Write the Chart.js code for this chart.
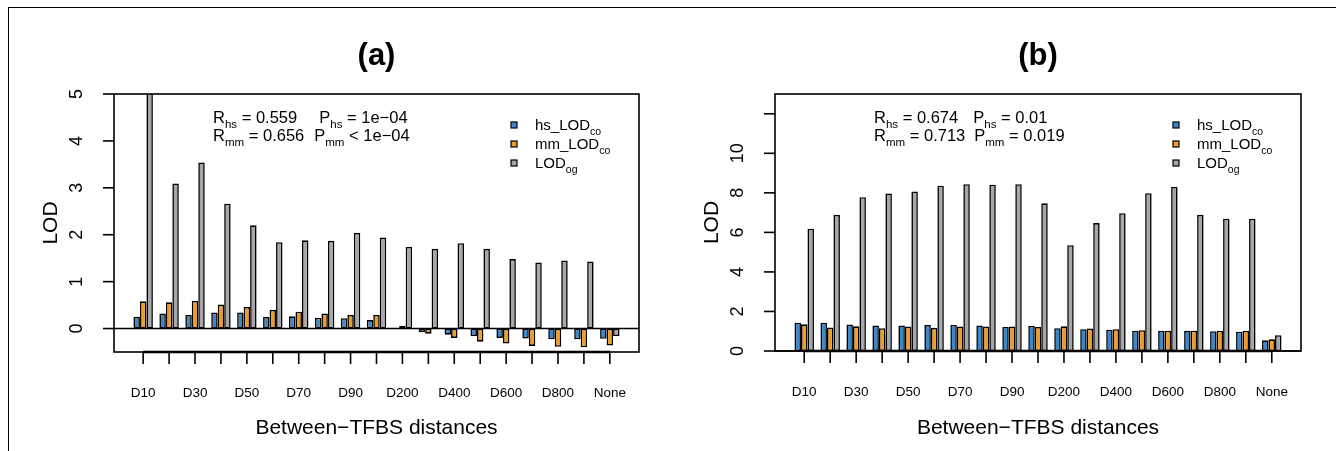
<!DOCTYPE html>
<html>
<head>
<meta charset="utf-8">
<script src="https://cdn.jsdelivr.net/npm/chart.js@4.4.1/dist/chart.umd.min.js"></script>
<style>
html,body{margin:0;padding:0;background:#fff;}
#wrap{position:relative;width:1336px;height:451px;overflow:hidden;}
#frame{position:absolute;left:8px;top:7px;width:1400px;height:500px;border-top:1.5px solid #000;border-left:1.5px solid #000;}
canvas{position:absolute;top:0;}
#ca{left:0;}
#cb{left:668px;}
</style>
</head>
<body>
<div id="wrap">
  <div id="frame"></div>
  <canvas id="ca" width="668" height="451"></canvas>
  <canvas id="cb" width="668" height="451"></canvas>
</div>
<script>
// categories (only every other one gets a printed label, like R drops overlapping ones)
const categories = ['D10','D20','D30','D40','D50','D60','D70','D80','D90','D100',
                    'D200','D300','D400','D500','D600','D700','D800','D900','None'];

// panel (a)
const hsA = [0.25,0.32,0.29,0.34,0.34,0.25,0.26,0.23,0.22,0.18,0.01,-0.08,-0.13,-0.16,-0.20,-0.21,-0.23,-0.23,-0.22];
const mmA = [0.58,0.56,0.59,0.51,0.46,0.40,0.36,0.32,0.29,0.29,0.06,-0.11,-0.20,-0.28,-0.32,-0.37,-0.39,-0.40,-0.36];
const ogA = [5.8,3.09,3.54,2.66,2.20,1.84,1.88,1.87,2.04,1.94,1.74,1.70,1.82,1.70,1.48,1.41,1.45,1.43,-0.16];
const yTicksA = [0,1,2,3,4,5];
const yLabelsA = ['0','1','2','3','4','5'];

// panel (b)
const hsB = [1.43,1.43,1.34,1.29,1.29,1.32,1.32,1.29,1.22,1.27,1.15,1.10,1.08,1.03,1.02,1.02,1.00,0.98,0.54];
const mmB = [1.35,1.19,1.25,1.15,1.24,1.17,1.24,1.24,1.24,1.22,1.25,1.14,1.10,1.05,1.03,1.03,1.03,1.03,0.59];
const ogB = [6.19,6.89,7.78,7.97,8.07,8.36,8.44,8.41,8.44,7.47,5.35,6.47,6.97,7.98,8.30,6.89,6.69,6.69,0.80];
const yTicksB = [0,2,4,6,8,10,12];
const yLabelsB = ['0','2','4','6','8','10',''];

const BLUE = '#3f88c8', ORANGE = '#f29a21', GREY = '#a5a7aa';
const FONT = '"Liberation Sans", Arial, Helvetica, sans-serif';

// barplot slot layout: 1 space + 3 bars per group, centre of group i
function groupX(i){ return 4*i + 2.5; }

function drawRich(ctx, x, y, parts, size, align){
  let w = 0;
  parts.forEach(p => {
    if (p.gap) { w += p.gap; return; }
    ctx.font = (p[1] ? size*0.7 : size) + 'px ' + FONT;
    w += ctx.measureText(p[0]).width;
  });
  let cx = align === 'center' ? x - w/2 : x;
  parts.forEach(p => {
    if (p.gap) { cx += p.gap; return; }
    ctx.font = (p[1] ? size*0.7 : size) + 'px ' + FONT;
    ctx.fillText(p[0], cx, p[1] ? y + size*0.28 : y);
    cx += ctx.measureText(p[0]).width;
  });
}

function line(ctx, x1, y1, x2, y2, lw){
  ctx.lineWidth = lw;
  ctx.beginPath(); ctx.moveTo(x1,y1); ctx.lineTo(x2,y2); ctx.stroke();
}

function rPanel(p){
  return {
    id: 'rpanel',
    afterDatasetsDraw(chart){
      const {ctx, chartArea: a, scales: {x, y}} = chart;
      ctx.save();
      ctx.strokeStyle = '#000'; ctx.fillStyle = '#000';
      ctx.lineCap = 'butt';

      // h=0 line and box
      const y0 = y.getPixelForValue(0);
      line(ctx, a.left, y0, a.right, y0, 1.6);
      ctx.lineWidth = 1.6;
      ctx.strokeRect(a.left, a.top, a.right - a.left, a.bottom - a.top);

      // y axis ticks + rotated labels
      ctx.textAlign = 'center'; ctx.textBaseline = 'middle';
      p.yTicks.forEach((v, i) => {
        const py = y.getPixelForValue(v);
        line(ctx, a.left - 11, py, a.left, py, 1.6);
        ctx.save();
        ctx.translate(a.left - 37, py); ctx.rotate(-Math.PI/2);
        ctx.font = '18px ' + FONT;
        ctx.fillText(p.yLabels[i], 0, 0);
        ctx.restore();
      });

      // x axis
      const xs = categories.map((c, i) => x.getPixelForValue(groupX(i)));
      line(ctx, xs[0], a.bottom, xs[xs.length-1], a.bottom, 2.6);
      ctx.font = '13.5px ' + FONT;
      xs.forEach((px, i) => {
        line(ctx, px, a.bottom, px, a.bottom + 12, 1.6);
        if (i % 2 === 0) ctx.fillText(categories[i], px, a.bottom + 41);
      });

      // axis titles
      ctx.font = '21px ' + FONT;
      ctx.fillText('Between\u2212TFBS distances', (a.left + a.right)/2, 428);
      ctx.save();
      ctx.translate(a.left - 63, (a.top + a.bottom)/2); ctx.rotate(-Math.PI/2);
      ctx.fillText('LOD', 0, 0);
      ctx.restore();

      // main title
      ctx.font = 'bold 31px ' + FONT;
      ctx.fillText(p.title, (a.left + a.right)/2, 56);

      // stats text
      ctx.textAlign = 'left'; ctx.textBaseline = 'alphabetic';
      drawRich(ctx, a.left + 99, 123, p.stat1, 16.5, 'left');
      drawRich(ctx, a.left + 99, 141, p.stat2, 16.5, 'left');

      // legend
      const leg = [
        [BLUE,   [['hs_LOD',0],['co',1]]],
        [ORANGE, [['mm_LOD',0],['co',1]]],
        [GREY,   [['LOD',0],['og',1]]]
      ];
      leg.forEach((l, k) => {
        const cy = a.top + 31 + 19*k;
        ctx.fillStyle = l[0];
        ctx.fillRect(a.right - 128, cy - 3, 6, 6);
        ctx.lineWidth = 1.2;
        ctx.strokeRect(a.right - 128, cy - 3, 6, 6);
        ctx.fillStyle = '#000';
        drawRich(ctx, a.right - 104, cy + 5.4, l[1], 15, 'left');
      });
      ctx.restore();
    }
  };
}

function makeChart(id, hs, mm, og, p){
  const ds = (label, vals, col) => ({
    label, backgroundColor: col,
    data: vals.map((v, i) => ({x: groupX(i), y: v}))
  });
  return new Chart(document.getElementById(id), {
    type: 'bar',
    data: { datasets: [ds('hs_LOD_co', hs, BLUE), ds('mm_LOD_co', mm, ORANGE), ds('LOD_og', og, GREY)] },
    options: {
      responsive: false, animation: false, devicePixelRatio: 1,
      layout: { padding: p.pad },
      datasets: { bar: { borderColor: '#000', borderWidth: 1.6, borderSkipped: false,
                         categoryPercentage: 0.75, barPercentage: 1, clip: 0 } },
      plugins: { legend: { display: false }, tooltip: { enabled: false }, title: { display: false } },
      scales: {
        x: { type: 'linear', min: -2, max: 79, offset: false, display: false,
             afterBuildTicks: s => { s.ticks = categories.map((c, i) => ({ value: groupX(i) })); } },
        y: { type: 'linear', min: p.yMin, max: p.yMax, display: false }
      }
    },
    plugins: [rPanel(p)]
  });
}

makeChart('ca', hsA, mmA, ogA, {
  title: '(a)', yMin: -0.5, yMax: 5, yTicks: yTicksA, yLabels: yLabelsA,
  pad: { left: 114, right: 29, top: 94, bottom: 99 },
  stat1: [['R',0],['hs',1],[' = 0.559',0],{gap:22},['P',0],['hs',1],[' = 1e\u221204',0]],
  stat2: [['R',0],['mm',1],[' = 0.656',0],{gap:10},['P',0],['mm',1],[' < 1e\u221204',0]]
});

makeChart('cb', hsB, mmB, ogB, {
  title: '(b)', yMin: 0, yMax: 13, yTicks: yTicksB, yLabels: yLabelsB,
  pad: { left: 107, right: 35, top: 94, bottom: 100 },
  stat1: [['R',0],['hs',1],[' = 0.674',0],{gap:15},['P',0],['hs',1],[' = 0.01',0]],
  stat2: [['R',0],['mm',1],[' = 0.713',0],{gap:9},['P',0],['mm',1],[' = 0.019',0]]
});
</script>
</body>
</html>
